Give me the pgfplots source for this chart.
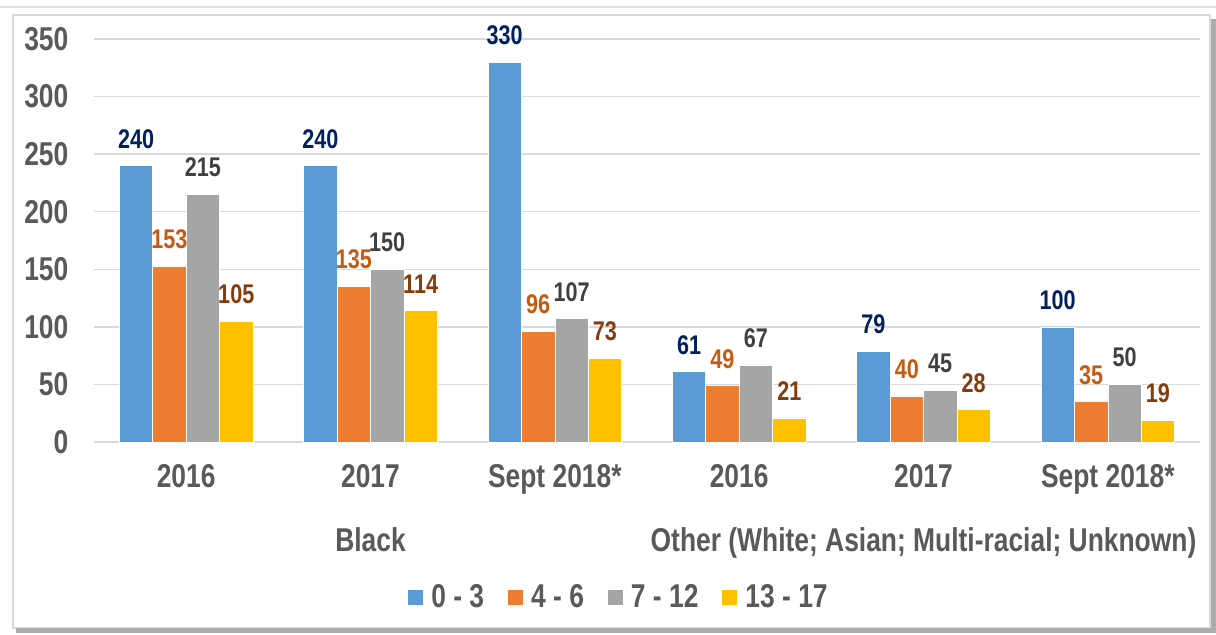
\documentclass[border=0pt]{standalone}
\usepackage{fontspec}
\setmainfont{Liberation Sans}[FakeStretch=0.8]
\usepackage{pgfplots}
\pgfplotsset{compat=1.18}
\definecolor{cblue}{HTML}{5B9BD5}
\definecolor{corange}{HTML}{ED7D31}
\definecolor{cgray}{HTML}{A5A5A5}
\definecolor{cyellow}{HTML}{FFC000}
\definecolor{lnavy}{HTML}{002060}
\definecolor{lorange}{HTML}{C55A11}
\definecolor{lgray}{HTML}{404040}
\definecolor{lbrown}{HTML}{843C0C}
\definecolor{txt}{HTML}{595959}
\definecolor{gridc}{HTML}{D9D9D9}
\begin{document}
\begin{tikzpicture}[x=1pt,y=1pt]
\path[use as bounding box] (0,0) rectangle (608,317.5);
\draw[gray!25, line width=1pt] (0,314) -- (608,314);
\draw[gray!30, line width=1pt] (6.5,3.5) rectangle (605,310);
\draw[gray!65, line width=2.5pt] (606.5,308) -- (606.5,2) -- (8,2);
\begin{axis}[
  at={(47pt,96.5pt)}, anchor=south west,
  scale only axis, width=553pt, height=201.5pt,
  ybar=0pt, bar width=16.7pt,
  xmin=-0.5, xmax=5.5, ymin=0, ymax=350,
  xtick={0,1,2,3,4,5},
  xticklabels={2016,2017,Sept 2018*,2016,2017,Sept 2018*},
  ytick={0,50,...,350},
  axis line style={draw=none},
  major tick length=0pt,
  ymajorgrids, grid style={color=gridc, line width=0.75pt},
  clip=false,
  /pgf/number format/assume math mode=true,
  tick label style={font=\fontsize{16.5}{20}\selectfont\bfseries, text=txt},
  yticklabel style={xshift=-9.3pt},
  xticklabel style={yshift=-7.8pt},
  nodes near coords,
  every node near coord/.append style={font=\fontsize{13.5}{15}\selectfont\bfseries, anchor=south, inner sep=0pt, yshift=8.5pt},
  legend columns=4,
  legend style={at={(0.4756,-0.387)}, anchor=center, draw=none, fill=none,
    font=\fontsize{16.5}{20}\selectfont\bfseries, text=txt,
    nodes={inner sep=2pt},
    /tikz/every odd column/.append style={column sep=2pt},
    /tikz/every even column/.append style={column sep=10pt}},
  legend image code/.code={\fill[#1,draw=none] (0pt,-3.75pt) rectangle (7.5pt,3.75pt);},
]
\addplot[fill=cblue, draw=white, line width=0.3pt, every node near coord/.append style={text=lnavy}]
  coordinates {(0,240) (1,240) (2,330) (3,61) (4,79) (5,100)};
\addplot[fill=corange, draw=white, line width=0.3pt, every node near coord/.append style={text=lorange}]
  coordinates {(0,153) (1,135) (2,96) (3,49) (4,40) (5,35)};
\addplot[fill=cgray, draw=white, line width=0.3pt, every node near coord/.append style={text=lgray}]
  coordinates {(0,215) (1,150) (2,107) (3,67) (4,45) (5,50)};
\addplot[fill=cyellow, draw=white, line width=0.3pt, every node near coord/.append style={text=lbrown}]
  coordinates {(0,105) (1,114) (2,73) (3,21) (4,28) (5,19)};
\legend{0 - 3,4 - 6,7 - 12,13 - 17}
\node[anchor=base, yshift=-55pt, font=\fontsize{16.5}{20}\selectfont\bfseries, text=txt] at (axis cs:1,0) {Black};
\node[anchor=base, yshift=-55pt, font=\fontsize{16.5}{20}\selectfont\bfseries, text=txt] at (axis cs:4,0) {Other (White; Asian; Multi-racial; Unknown)};
\end{axis}
\end{tikzpicture}
\end{document}
